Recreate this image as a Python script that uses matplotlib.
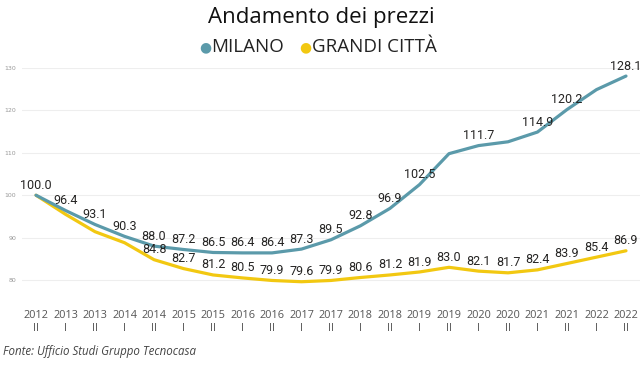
import numpy as np
import matplotlib
matplotlib.use("Agg")
import matplotlib.pyplot as plt

periods = ["2012\nII", "2013\nI", "2013\nII", "2014\nI", "2014\nII", "2015\nI", "2015\nII",
           "2016\nI", "2016\nII", "2017\nI", "2017\nII", "2018\nI", "2018\nII", "2019\nI",
           "2019\nII", "2020\nI", "2020\nII", "2021\nI", "2021\nII", "2022\nI", "2022\nII"]

milano = [100.0, 96.4, 93.1, 90.3, 88.0, 87.2, 86.5, 86.4, 86.4, 87.3, 89.5, 92.8,
          96.9, 102.5, 109.8, 111.7, 112.6, 114.9, 120.2, 124.9, 128.1]
grandi_citta = [100.0, 95.5, 91.4, 88.8, 84.8, 82.7, 81.2, 80.5, 79.9, 79.6, 79.9, 80.6,
                81.2, 81.9, 83.0, 82.1, 81.7, 82.4, 83.9, 85.4, 86.9]

# points whose value label is not shown in the original
milano_hidden = [14, 16, 19]
grandi_hidden = [0, 1, 2, 3]

blue = "#5B9AAA"
yellow = "#F2C811"

fig = plt.figure(figsize=(6.43, 3.67), dpi=100)
ax = fig.add_axes([22 / 643, 1 - 297 / 367, 618 / 643, (297 - 68) / 367])

x = np.arange(len(periods))
ax.plot(x, grandi_citta, color=yellow, lw=2.3, solid_joinstyle="round",
        solid_capstyle="round", clip_on=False, zorder=3)
ax.plot(x, milano, color=blue, lw=2.3, solid_joinstyle="round",
        solid_capstyle="round", clip_on=False, zorder=4)

lbl_font = dict(fontsize=9, family="Roboto", color="#252423", ha="center", va="bottom")
for i, v in enumerate(milano):
    if i in milano_hidden:
        continue
    ax.annotate(f"{v:.1f}", (i, v), xytext=(0, 2.5), textcoords="offset points",
                zorder=5, **lbl_font)
for i, v in enumerate(grandi_citta):
    if i in grandi_hidden:
        continue
    ax.annotate(f"{v:.1f}", (i, v), xytext=(0, 2.5), textcoords="offset points",
                zorder=5, **lbl_font)

ax.set_xlim(-0.475, 20.475)
ax.set_ylim(76, 130)
ax.set_yticks([80, 90, 100, 110, 120, 130])
ax.set_yticklabels(["80", "90", "100", "110", "120", "130"], fontsize=4.5, color="#999999")
ax.set_xticks(x)
ax.set_xticklabels(periods, fontsize=7.8, color="#555555", family="Open Sans",
                   linespacing=1.3)
ax.tick_params(axis="both", length=0)
ax.tick_params(axis="x", pad=9)
ax.tick_params(axis="y", pad=4)
ax.grid(axis="y", color="#eeeeee", lw=0.8)
ax.set_axisbelow(True)
for s in ax.spines.values():
    s.set_visible(False)

fig.text(0.5, 1 - 17 / 367, "Andamento dei prezzi", ha="center", va="center",
         fontsize=16, family="Open Sans", color="#111111")

# legend row
fig.text(205 / 643, 1 - 47 / 367, "●", ha="center", va="center", fontsize=10, color=blue)
fig.text(211 / 643, 1 - 47 / 367, "MILANO", ha="left", va="center", fontsize=13.5,
         family="Open Sans", color="#222222")
fig.text(305 / 643, 1 - 47 / 367, "●", ha="center", va="center", fontsize=10, color=yellow)
fig.text(312 / 643, 1 - 47 / 367, "GRANDI CITTÀ", ha="left", va="center", fontsize=13.5,
         family="Open Sans", color="#222222")

fig.text(3 / 643, 1 - 352 / 367, "Fonte: Ufficio Studi Gruppo Tecnocasa", ha="left",
         va="center", fontsize=8.3, style="italic", family="Open Sans", color="#444444")

fig.savefig("out.png", dpi=100)
